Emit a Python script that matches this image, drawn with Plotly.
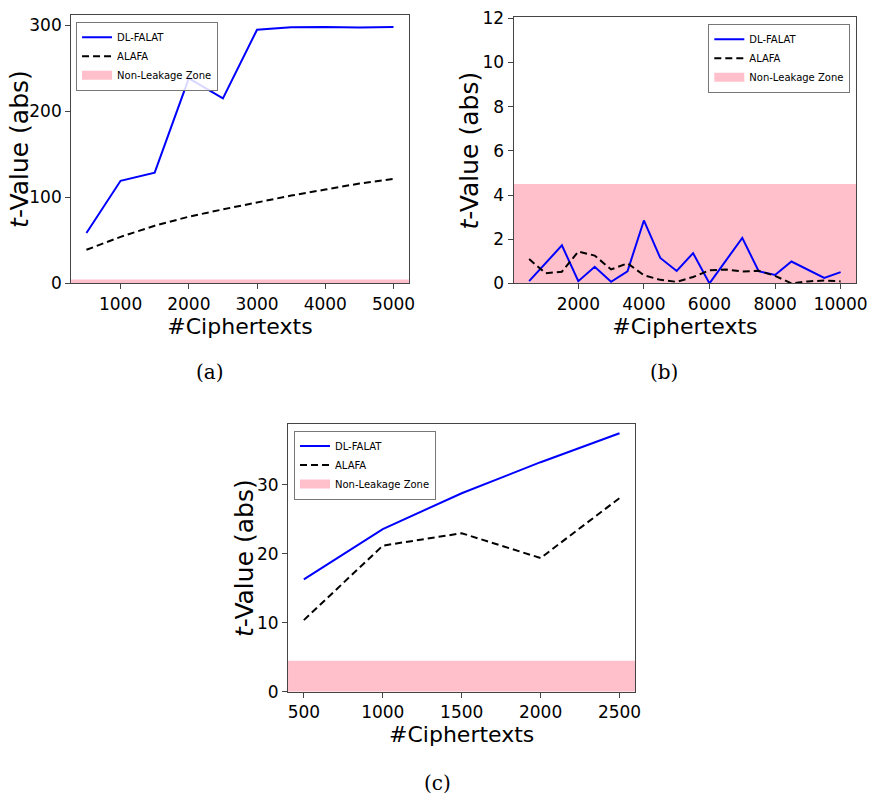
import plotly.graph_objects as go

# ---------------- data ----------------
x_a = [500, 1000, 1500, 2000, 2500, 3000, 3500, 4000, 4500, 5000]
dl_a = [58.6, 119.2, 128.6, 238.3, 214.9, 294.7, 297.7, 298.0, 297.4, 298.0]
alafa_a = [39.0, 54.0, 67.0, 77.5, 86.0, 94.0, 102.0, 109.0, 116.0, 121.4]

x_b = [500, 1000, 1500, 2000, 2500, 3000, 3500, 4000, 4500, 5000,
       5500, 6000, 6500, 7000, 7500, 8000, 8500, 9000, 9500, 10000]
dl_b = [0.10, 0.90, 1.72, 0.10, 0.75, 0.07, 0.55, 2.85, 1.15, 0.56,
        1.37, 0.00, 1.03, 2.06, 0.55, 0.38, 0.99, 0.62, 0.25, 0.51]
alafa_b = [1.10, 0.46, 0.53, 1.44, 1.26, 0.63, 0.91, 0.37, 0.16, 0.07,
           0.29, 0.59, 0.63, 0.54, 0.57, 0.34, 0.00, 0.09, 0.13, 0.09]

x_c = [500, 1000, 1500, 2000, 2500]
dl_c = [16.3, 23.6, 28.8, 33.3, 37.5]
alafa_c = [10.4, 21.2, 23.0, 19.4, 28.1]

threshold = 4.5
captions = ["(a)", "(b)", "(c)"]
x_title = "#Ciphertexts"
y_title = "<i>t</i>-Value (abs)"

ticks_x = {"a": [1000, 2000, 3000, 4000, 5000],
           "b": [2000, 4000, 6000, 8000, 10000],
           "c": [500, 1000, 1500, 2000, 2500]}
ticks_y = {"a": [0, 100, 200, 300],
           "b": [0, 2, 4, 6, 8, 10, 12],
           "c": [0, 10, 20, 30]}

# ---------------- figure ----------------
W, H = 885, 806
BLUE = "#0000FF"
PINK = "#FFC0CB"
FONT = "DejaVu Sans"

fig = go.Figure()

panels = [
    # key, x, dl, alafa, x-axis id, y-axis id, legend id, xdom(px), ydom(px top,bottom),
    # xrange, yrange, legend pos/anchor, y-title x centre (px)
    ("a", x_a, dl_a, alafa_a, "x", "y", "legend", (72, 414), (6, 281), (275, 5225), (0, 312), (77, 13, "left"), 19),
    ("b", x_b, dl_b, alafa_b, "x2", "y2", "legend2", (520, 867), (8.7, 281), (25, 10475), (0, 12.04), (861, 15, "right"), 475),
    ("c", x_c, dl_c, alafa_c, "x3", "y3", "legend3", (291.7, 643.3), (425.3, 699.3), (400, 2600), (0, 38.8), (297.7, 431.7, "left"), 247),
]

layout_axes = {}
annotations = []
for i, (key, xs, dl, al, xa, ya, lg, xd, yd, xr, yr, lp, ytx) in enumerate(panels):
    fig.add_trace(go.Scatter(x=xs, y=dl, mode="lines", name="DL-FALAT",
                             line=dict(color=BLUE, width=2), xaxis=xa, yaxis=ya,
                             legend=lg, legendrank=1))
    fig.add_trace(go.Scatter(x=xs, y=al, mode="lines", name="ALAFA",
                             line=dict(color="black", width=2, dash="7px,4px"),
                             xaxis=xa, yaxis=ya, legend=lg, legendrank=2))
    # legend entry for the zone (wide pink patch)
    fig.add_trace(go.Scatter(x=[None], y=[None], mode="lines", name="Non-Leakage Zone",
                             line=dict(color=PINK, width=9), xaxis=xa, yaxis=ya,
                             legend=lg, legendrank=3, hoverinfo="skip"))
    xref = "x" if xa == "x" else xa
    yref = "y" if ya == "y" else ya
    fig.add_shape(type="rect", xref=f"{xref} domain", yref=yref, x0=0, x1=1,
                  y0=0, y1=threshold, fillcolor=PINK, line=dict(width=0),
                  layer="below")

    axname_x = "xaxis" if xa == "x" else "xaxis" + xa[1:]
    axname_y = "yaxis" if ya == "y" else "yaxis" + ya[1:]
    common = dict(showline=True, linecolor="#444", linewidth=1, mirror=True,
                  ticks="outside", ticklen=5, tickcolor="#444", showgrid=False,
                  zeroline=False, ticklabeloverflow="allow",
                  tickfont=dict(family=FONT, size=17, color="black"))
    layout_axes[axname_x] = dict(
        domain=[xd[0] / W, xd[1] / W], range=list(xr), anchor=ya,
        tickvals=ticks_x[key], tickformat="d",
        title=dict(text=x_title, font=dict(family=FONT, size=22, color="black"), standoff=5),
        **common)
    layout_axes[axname_y] = dict(
        domain=[1 - yd[1] / H, 1 - yd[0] / H], range=list(yr), anchor=xa,
        tickvals=ticks_y[key], **common)
    annotations.append(dict(text=y_title, textangle=-90, x=ytx / W,
                            y=1 - (yd[0] + yd[1]) / 2 / H, xref="paper", yref="paper",
                            showarrow=False, xanchor="center", yanchor="middle",
                            font=dict(family=FONT, size=25, color="black")))
    leg = dict(x=lp[0] / W, y=1 - lp[1] / H, xanchor=lp[2], yanchor="top",
               bgcolor="rgba(255,255,255,0.85)", bordercolor="#777", borderwidth=1,
               font=dict(family=FONT, size=10, color="black"), tracegroupgap=0,
               itemwidth=30)
    layout_axes[lg] = leg

cap_pos = [(213, 372), (672, 372), (443, 793)]
for cap, (cx, cy) in zip(captions, cap_pos):
    annotations.append(dict(text=cap, x=cx / W, y=1 - cy / H, xref="paper", yref="paper",
                            showarrow=False, xanchor="center", yanchor="middle",
                            font=dict(family="DejaVu Serif", size=20, color="black")))

fig.update_layout(
    width=W, height=H, margin=dict(l=0, r=0, t=0, b=0),
    paper_bgcolor="white", plot_bgcolor="white",
    annotations=annotations, showlegend=True,
    **layout_axes,
)

fig.write_html("out.html")
